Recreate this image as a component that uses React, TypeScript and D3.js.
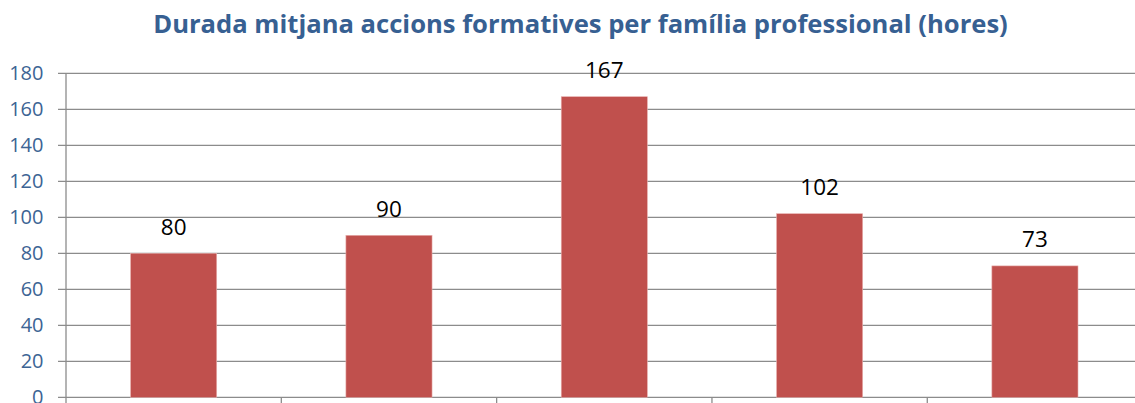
import React from "react";
import * as d3 from "d3";

const categories = ["Família 1", "Família 2", "Família 3", "Família 4", "Família 5"];
const values = [80, 90, 167, 102, 73];
const yTicks = [0, 20, 40, 60, 80, 100, 120, 140, 160, 180];
const title = "Durada mitjana accions formatives per família professional (hores)";

export default function App() {
  const W = 1135, H = 403;
  const left = 66, right = 1142.6, top = 73.3, bottom = 397.3;
  const x = d3.scaleBand<string>().domain(categories).range([left, right]).paddingInner(0.6).paddingOuter(0.3);
  const xb = d3.scaleBand<string>().domain(categories).range([left, right]);
  const y = d3.scaleLinear().domain([0, 180]).range([bottom, top]);
  const grid = "#8c8c8c";
  return (
    <svg width={W} height={H} style={{ position: "absolute", left: 0, top: 0, background: "#fff" }}>
      <text x={580.5} y={33} textAnchor="middle" fontFamily="'Open Sans', sans-serif" fontWeight={700} fontSize={25.6} fill="#376092">{title}</text>
      {yTicks.map(t => (
        <g key={t}>
          <line x1={58} x2={right} y1={y(t)} y2={y(t)} stroke={grid} strokeWidth={1.3} />
          <text x={43.5} y={y(t)} dy="0.35em" textAnchor="end" fontFamily="'Open Sans', sans-serif" fontSize={20} fill="#3c6494">{t}</text>
        </g>
      ))}
      <line x1={left} x2={left} y1={top} y2={H} stroke={grid} strokeWidth={1.3} />
      {categories.slice(1).map(c => (
        <line key={c} x1={xb(c)!} x2={xb(c)!} y1={bottom} y2={H} stroke={grid} strokeWidth={1.3} />
      ))}
      {categories.map((c, i) => (
        <g key={c}>
          <rect x={x(c)!} y={y(values[i])} width={x.bandwidth()} height={bottom - y(values[i])} fill="#c0504d" stroke="#e8b0ae" strokeWidth={0.6} />
          <text x={x(c)! + x.bandwidth() / 2} y={y(values[i]) - 26.6} dy="0.35em" textAnchor="middle" fontFamily="'Open Sans', sans-serif" fontSize={22.5} fill="#000">{values[i]}</text>
        </g>
      ))}
    </svg>
  );
}
